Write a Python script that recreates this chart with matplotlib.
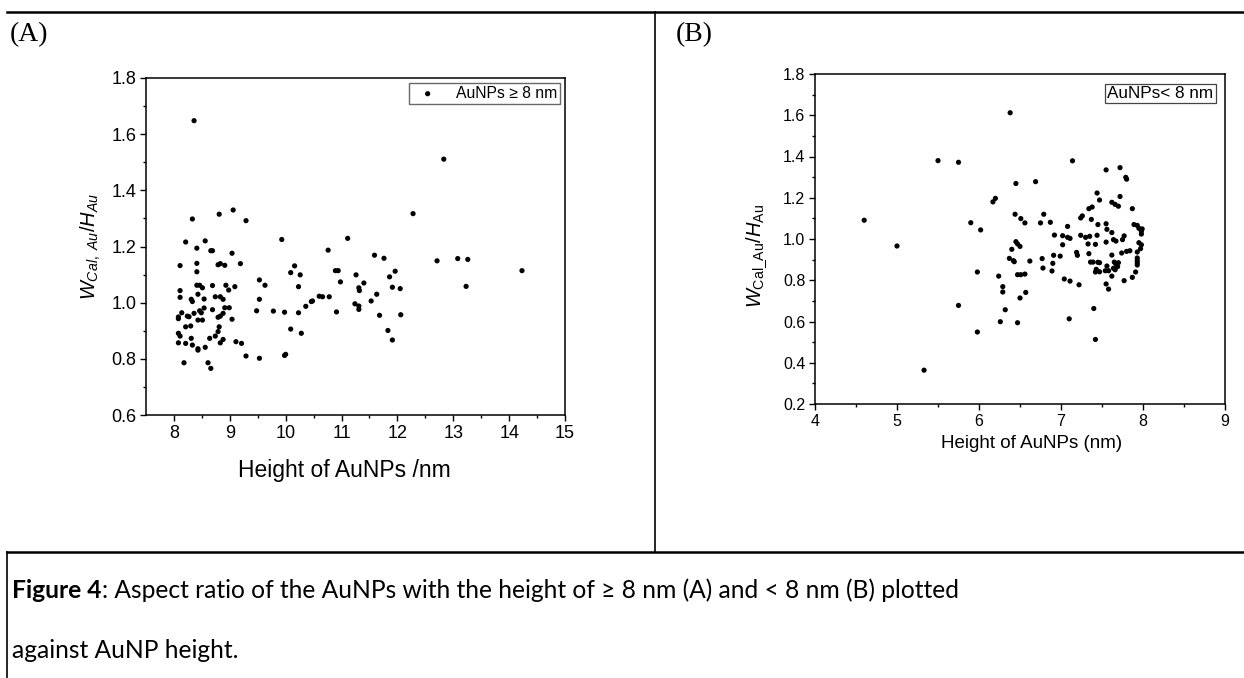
import matplotlib
matplotlib.use('Agg')
import matplotlib.pyplot as plt

plt.rcParams['font.family'] = ['Liberation Sans', 'DejaVu Sans']
plt.rcParams['mathtext.fontset'] = 'custom'
plt.rcParams['mathtext.rm'] = 'Liberation Sans'
plt.rcParams['mathtext.it'] = 'Liberation Sans:italic'

# (A) AuNPs >= 8 nm : height (nm) vs aspect ratio
height_a = [8.36, 8.33, 8.81, 9.06, 9.29, 8.21, 8.56, 8.41, 8.66, 8.69, 9.04, 8.11, 8.41, 8.41,
            8.79, 8.83, 8.91, 9.19, 9.93, 9.53, 9.63, 9.53, 9.48, 9.78, 9.98, 10.16, 10.09, 10.26,
            10.23, 10.23, 10.09, 10.28, 10.00, 9.98, 10.36, 10.46, 10.48, 10.60, 10.66, 10.78, 10.76,
            11.11, 10.89, 10.94, 10.98, 10.91, 11.26, 11.31, 11.32, 11.40, 11.24, 11.31, 11.31, 11.53,
            11.63, 11.59, 11.76, 11.68, 11.86, 11.91, 11.96, 11.83, 11.91, 12.05, 12.06,
            8.11, 8.11, 8.14, 8.08, 8.08, 8.24, 8.27, 8.21, 8.30, 8.08, 8.11, 8.08, 8.21, 8.31, 8.33,
            8.43, 8.43, 8.56, 8.18, 8.61, 8.66, 8.31, 8.33, 8.36, 8.43, 8.41, 8.46, 8.51, 8.54, 8.46,
            8.49, 8.54, 8.43, 8.51, 8.69, 8.74, 8.83, 8.88, 8.69, 8.79, 8.83, 8.88, 8.91, 8.93, 8.98,
            9.09, 8.99, 9.04, 8.81, 8.79, 8.74, 8.64, 8.88, 8.83, 9.11, 9.21, 9.29, 9.53,
            12.83, 12.28, 12.71, 13.08, 13.26, 13.23, 14.23]
ratio_a = [1.648, 1.298, 1.315, 1.330, 1.292, 1.216, 1.220, 1.194, 1.185, 1.185, 1.176, 1.132, 1.140, 1.110,
           1.135, 1.139, 1.133, 1.139, 1.225, 1.081, 1.062, 1.012, 0.971, 0.970, 0.966, 1.131, 1.107, 1.099,
           1.057, 0.964, 0.906, 0.891, 0.816, 0.812, 0.987, 1.004, 1.006, 1.023, 1.021, 1.021, 1.187,
           1.229, 1.114, 1.114, 1.074, 0.967, 1.099, 1.053, 1.043, 1.070, 0.996, 0.988, 0.976, 1.006,
           1.030, 1.169, 1.158, 0.955, 1.092, 1.055, 1.112, 0.901, 0.867, 1.050, 0.957,
           1.043, 1.019, 0.964, 0.949, 0.943, 0.952, 0.950, 0.914, 0.917, 0.891, 0.881, 0.857, 0.855, 0.873, 0.849,
           0.836, 0.831, 0.841, 0.786, 0.786, 0.766, 1.012, 1.004, 0.962, 1.030, 1.062, 1.062, 1.053, 1.013, 0.971,
           0.964, 0.981, 0.938, 0.938, 1.061, 1.021, 1.021, 1.012, 0.975, 0.948, 0.952, 0.962, 0.982, 1.062, 1.045,
           1.057, 0.982, 0.941, 0.914, 0.897, 0.881, 0.873, 0.869, 0.857, 0.861, 0.855, 0.810, 0.802,
           1.511, 1.317, 1.149, 1.157, 1.154, 1.058, 1.114]

# (B) AuNPs < 8 nm
height_b = [4.60, 5.00, 5.33, 5.50, 5.75, 5.90, 6.02, 5.98, 5.75, 5.98, 6.17, 6.20, 6.24, 6.26,
            6.38, 7.14, 7.55, 7.72, 7.79, 7.80, 6.45, 6.69, 7.44, 7.47, 7.62, 7.66, 7.72, 7.70, 7.87,
            7.38, 7.34, 7.26, 7.24, 6.44, 6.51, 6.56, 6.79, 6.75, 6.87, 7.08, 7.37, 7.45, 7.55, 7.56,
            7.62, 7.89, 7.93, 7.95, 7.99, 7.98, 7.98, 6.92, 7.02, 7.08, 7.11, 7.24, 7.30, 7.35, 7.44,
            7.55, 7.64, 7.67, 7.77, 7.75, 7.33, 7.42, 7.02, 7.95, 7.98, 7.97, 7.74, 7.80, 7.84, 7.93,
            6.45, 6.47, 6.50, 6.40, 7.34, 7.19, 7.20, 7.62, 6.91, 6.99, 6.37, 6.42, 6.43, 6.62, 6.77,
            7.93, 7.93, 7.93, 7.93, 7.36, 7.39, 7.45, 7.47, 7.56, 7.65, 7.67, 7.70, 7.69, 7.64, 7.66,
            7.54, 7.42, 7.47, 7.43, 7.58, 6.90, 6.78, 6.89, 6.47, 6.51, 6.56, 7.62, 7.77, 7.87, 7.91,
            7.04, 7.11, 7.22, 7.55, 7.58, 6.29, 6.29, 6.57, 6.50, 6.32, 7.40, 7.10, 6.47, 7.42]
ratio_b = [1.091, 0.966, 0.364, 1.380, 1.372, 1.079, 1.044, 0.840, 0.678, 0.549, 1.180, 1.197, 0.820, 0.599,
           1.612, 1.379, 1.335, 1.346, 1.299, 1.290, 1.269, 1.278, 1.223, 1.189, 1.178, 1.168, 1.206, 1.159, 1.147,
           1.155, 1.147, 1.112, 1.102, 1.120, 1.099, 1.078, 1.120, 1.078, 1.081, 1.061, 1.095, 1.070, 1.074, 1.047,
           1.031, 1.070, 1.066, 1.052, 1.049, 1.037, 1.024, 1.019, 1.016, 1.008, 1.003, 1.018, 1.008, 1.013, 1.018,
           0.985, 0.997, 0.990, 1.015, 0.997, 0.976, 0.974, 0.972, 0.982, 0.972, 0.953, 0.932, 0.940, 0.943, 0.937,
           0.987, 0.976, 0.964, 0.950, 0.929, 0.935, 0.921, 0.922, 0.921, 0.917, 0.906, 0.895, 0.890, 0.893, 0.905,
           0.908, 0.896, 0.885, 0.874, 0.888, 0.888, 0.887, 0.885, 0.869, 0.888, 0.879, 0.885, 0.866, 0.858, 0.851,
           0.846, 0.840, 0.841, 0.853, 0.846, 0.882, 0.859, 0.845, 0.827, 0.827, 0.830, 0.820, 0.798, 0.814, 0.840,
           0.806, 0.796, 0.778, 0.782, 0.757, 0.769, 0.743, 0.741, 0.714, 0.657, 0.663, 0.613, 0.594, 0.513]

xticks_a = [8, 9, 10, 11, 12, 13, 14, 15]
yticks_a = [0.6, 0.8, 1.0, 1.2, 1.4, 1.6, 1.8]
xticks_b = [4, 5, 6, 7, 8, 9]
yticks_b = [0.2, 0.4, 0.6, 0.8, 1.0, 1.2, 1.4, 1.6, 1.8]

W, H = 1244, 678
fig = plt.figure(figsize=(W / 100, H / 100), dpi=100)


def px_box(left, top, right, bottom):
    return [left / W, 1 - bottom / H, (right - left) / W, (bottom - top) / H]


def style_axes(ax, xticks, yticks, size):
    ax.set_xticks(xticks)
    ax.set_yticks(yticks)
    ax.set_xticks([t + 0.5 for t in xticks[:-1]], minor=True)
    ax.set_yticks([round(t + 0.1, 2) for t in yticks[:-1]], minor=True)
    ax.set_yticklabels([f'{t:.1f}' for t in yticks])
    ax.tick_params(which='both', direction='out', top=False, right=False, labelsize=size, width=1)
    ax.tick_params(which='major', length=4, pad=3)
    ax.tick_params(which='minor', length=2.5)
    for s in ax.spines.values():
        s.set_linewidth(1.1)


# panel A
axA = fig.add_axes(px_box(146, 78, 565, 415))
axA.scatter(height_a, ratio_a, s=14, color='black', edgecolors='none', label='AuNPs ≥ 8 nm')
axA.set_xlim(7.5, 15)
axA.set_ylim(0.6, 1.8)
style_axes(axA, xticks_a, yticks_a, 13)
axA.set_xlabel('Height of AuNPs /nm', fontsize=16.5)
axA.xaxis.set_label_coords(0.473, -0.13)
axA.set_ylabel(r'$W_{Cal,\ Au}/H_{Au}$', fontsize=14.5, labelpad=6)
axA.legend(loc='upper right', fontsize=11.3, frameon=True, fancybox=False, edgecolor='#444444',
           handletextpad=0.8, borderpad=0.2, borderaxespad=0.3, markerscale=1.0)

# panel B
axB = fig.add_axes(px_box(815, 74, 1225, 404))
axB.scatter(height_b, ratio_b, s=14, color='black', edgecolors='none')
axB.set_xlim(4, 9)
axB.set_ylim(0.2, 1.8)
style_axes(axB, xticks_b, yticks_b, 11.5)
axB.set_xlabel('Height of AuNPs (nm)', fontsize=13.5)
axB.xaxis.set_label_coords(0.527, -0.093)
axB.set_ylabel(r'$W_{\mathrm{Cal\_Au}}/H_{\mathrm{Au}}$', fontsize=14.5)
axB.yaxis.set_label_coords(-0.112, 0.45)
axB.text(0.972, 0.963, 'AuNPs< 8 nm', transform=axB.transAxes, ha='right', va='top', fontsize=12.3,
         bbox=dict(boxstyle='square,pad=0.12', facecolor='white', edgecolor='#444444', linewidth=0.9))

# table frame lines, in pixel coordinates
frame = fig.add_axes([0, 0, 1, 1], zorder=-1)
frame.set_xlim(0, W)
frame.set_ylim(H, 0)
frame.axis('off')
frame.plot([7, W], [12, 12], color='black', lw=1.8)
frame.plot([655, 655], [12, 552], color='black', lw=1.2)
frame.plot([7, W], [552, 552], color='black', lw=1.8)
frame.plot([7, 7], [552, H], color='black', lw=1.2)

fig.text(10 / W, 1 - 41 / H, '(A)', family='Liberation Serif', fontsize=20, va='baseline')
fig.text(676 / W, 1 - 41 / H, '(B)', family='Liberation Serif', fontsize=20, va='baseline')

# caption
cap_font = 'Lato'
cap_size = 17.7
t1 = fig.text(12 / W, 1 - 598 / H, 'Figure 4', family=cap_font, fontsize=cap_size, weight='bold', va='baseline')
fig.canvas.draw()
bb = t1.get_window_extent()
fig.text(bb.x1 / W, 1 - 598 / H, ': Aspect ratio of the AuNPs with the height of ≥ 8 nm (A) and < 8 nm (B) plotted',
         family=cap_font, fontsize=cap_size, va='baseline')
fig.text(12 / W, 1 - 658 / H, 'against AuNP height.', family=cap_font, fontsize=cap_size, va='baseline')

fig.savefig('out.png', dpi=100)
